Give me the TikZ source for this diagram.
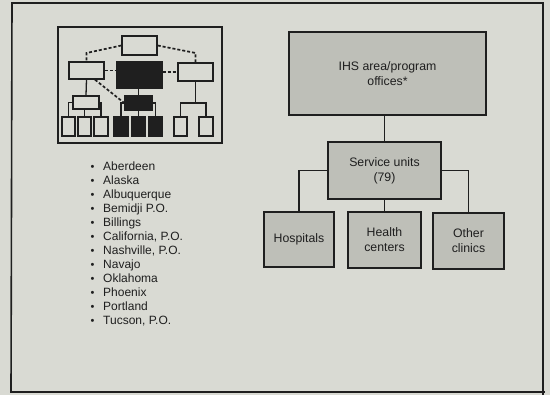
\documentclass[tikz,border=0pt]{standalone}
\usepackage{fontspec}
\setmainfont{Liberation Sans}
\usetikzlibrary{calc}
\definecolor{bg}{HTML}{D9DAD3}
\definecolor{boxfill}{HTML}{BEBFB8}
\definecolor{ink}{HTML}{1F1F1F}
\begin{document}
\begin{tikzpicture}[x=1pt,y=-1pt,
  orgbox/.style={draw=ink, line width=1.8pt, fill=boxfill, align=center, text=ink,
    font=\fontsize{12.3}{15}\selectfont, inner sep=0pt},
  conn/.style={draw=ink, line width=1.8pt},
  minibox/.style={draw=ink, line width=1.4pt, fill=bg, inner sep=0pt},
  miniblack/.style={draw=ink, line width=1.4pt, fill=black!88, inner sep=0pt},
  miniline/.style={draw=ink, line width=1.3pt},
  minidash/.style={draw=ink, line width=1.7pt, dash pattern=on 3pt off 2pt},
  listitem/.style={anchor=base west, inner sep=0pt, text=ink, font=\fontsize{12}{14}\selectfont}]
\fill[bg] (0,0) rectangle (550,395);
\useasboundingbox (0,0) rectangle (550,395);
\draw[ink, line width=1.6pt] (11,393) -- (12,3) -- (543,3) -- (543,395);
\draw[ink, line width=1.6pt] (11,392) -- (545,392);

% inset picture
\node[draw=ink, line width=1.6pt, minimum width=164, minimum height=116, inner sep=0pt] (inset) at (140,85) {};
\node[minibox, minimum width=35, minimum height=19] (t) at (139.5,45.5) {};
\node[minibox, minimum width=35, minimum height=17] (l) at (86.5,70.5) {};
\node[miniblack, minimum width=45, minimum height=26] (c) at (139.5,75) {};
\node[minibox, minimum width=35, minimum height=18] (r) at (195.5,72) {};
\node[minibox, minimum width=26, minimum height=13] (ls) at (86,102.5) {};
\node[miniblack, minimum width=27, minimum height=14] (cs) at (138.5,103) {};
\node[minibox, minimum width=13, minimum height=19] (b1) at (68.5,126.5) {};
\node[minibox, minimum width=13, minimum height=19] (b2) at (84.5,126.5) {};
\node[minibox, minimum width=14, minimum height=19] (b3) at (101,126.5) {};
\node[miniblack, minimum width=14, minimum height=19] (k1) at (121,126.5) {};
\node[miniblack, minimum width=13, minimum height=19] (k2) at (138.5,126.5) {};
\node[miniblack, minimum width=13, minimum height=19] (k3) at (155.5,126.5) {};
\node[minibox, minimum width=13, minimum height=19] (r1) at (180.5,126.5) {};
\node[minibox, minimum width=14, minimum height=19] (r2) at (206,126.5) {};
\coordinate (ld) at (86.5,53);
\coordinate (rd) at (195.5,53);
\coordinate (rj) at (195.5,103);
\draw[minidash] (t.west) -- (ld) -- (l.north);
\draw[minidash] (t.east) -- (rd) -- (r.north);
\draw[minidash] (l.east) -- (l.east -| c.west);
\draw[minidash] (r.west -| c.east) -- (r.west);
\draw[minidash] ($(l.south)+(8.5,0)$) -- (cs.west);
\draw[miniline] (l.south) -- (ls.north);
\draw[miniline] (ls.west) -| (b1.north);
\draw[miniline] (ls.east) -| (b3.north);
\draw[miniline] (ls.south -| b2.north) -- (b2.north);
\draw[miniline] (c.south -| cs.north) -- (cs.north);
\draw[miniline] (cs.west) -| (k1.north);
\draw[miniline] (cs.east) -| (k3.north);
\draw[miniline] (cs.south -| k2.north) -- (k2.north);
\draw[miniline] (r.south) -- (rj);
\draw[miniline] (rj) -| (r1.north);
\draw[miniline] (rj) -| (r2.north);

% list
\foreach \t [count=\i] in {Aberdeen, Alaska, Albuquerque, Bemidji P.O., Billings, {California, P.O.}, {Nashville, P.O.}, Navajo, Oklahoma, Phoenix, Portland, {Tucson, P.O.}}
  \node[listitem] (item\i) at (90.5,{171+14*(\i-1)}) {\makebox[12.5pt][l]{\fontsize{11}{11}\selectfont\raisebox{0.3pt}{•}}\t};

% org chart
\node[orgbox, minimum width=197, minimum height=83] (ihs) at (387.5,73.5) {IHS area/program\\offices*};
\node[orgbox, minimum width=113, minimum height=57] (svc) at (384.5,170.5) {Service units\\(79)};
\node[orgbox, minimum width=70, minimum height=55] (hosp) at (299,239.5) {Hospitals};
\node[orgbox, minimum width=73, minimum height=56] (hc) at (384.5,240) {Health\\centers};
\node[orgbox, minimum width=71, minimum height=56] (oc) at (468.5,241) {Other\\clinics};
\draw[conn] (ihs.south -| svc.north) -- (svc.north);
\draw[conn] (svc.west) -| (hosp.north);
\draw[conn] (svc.south) -- (hc.north);
\draw[conn] (svc.east) -| (oc.north);
\end{tikzpicture}
\end{document}
